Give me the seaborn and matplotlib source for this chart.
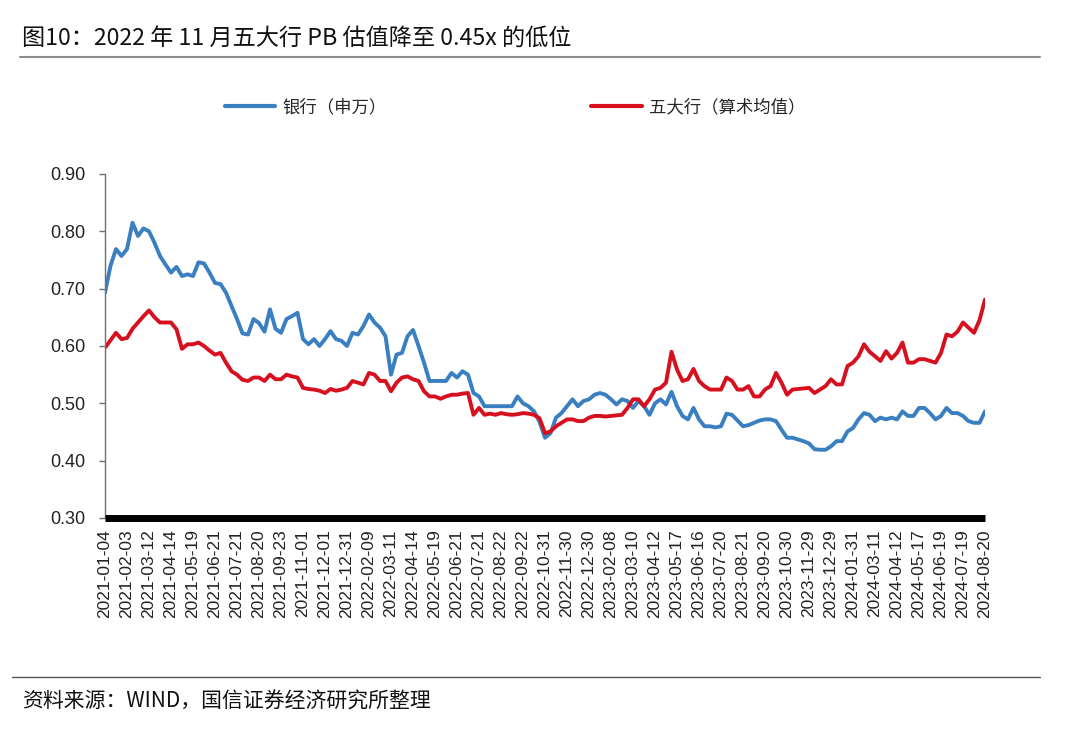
import matplotlib
matplotlib.use("Agg")
import matplotlib.pyplot as plt
import seaborn as sns
import pandas as pd
import numpy as np

# weekly readings (every ~5 trading days) from 2021-01-04 to 2024-08-20
bank_sw = [
    0.693, 0.74, 0.769, 0.757, 0.769, 0.815, 0.792, 0.805, 0.80, 0.78,
    0.757, 0.742, 0.728, 0.738, 0.722, 0.725, 0.722, 0.746, 0.744, 0.728,
    0.71, 0.708, 0.693, 0.67, 0.647, 0.622, 0.62, 0.647, 0.64, 0.625,
    0.664, 0.63, 0.623, 0.647, 0.652, 0.658, 0.612, 0.603, 0.612, 0.60,
    0.612, 0.626, 0.612, 0.609, 0.60, 0.623, 0.62, 0.635, 0.655, 0.641,
    0.632, 0.617, 0.55, 0.585, 0.588, 0.617, 0.628, 0.60, 0.571, 0.539,
    0.539, 0.539, 0.539, 0.553, 0.545, 0.556, 0.55, 0.518, 0.512, 0.495,
    0.495, 0.495, 0.495, 0.495, 0.495, 0.512, 0.50, 0.495, 0.486, 0.468,
    0.44, 0.448, 0.475, 0.483, 0.495, 0.507, 0.495, 0.504, 0.507, 0.515,
    0.518, 0.515, 0.507, 0.498, 0.507, 0.504, 0.492, 0.504, 0.495, 0.48,
    0.50, 0.507, 0.498, 0.52, 0.495, 0.478, 0.472, 0.492, 0.472, 0.46,
    0.46, 0.458, 0.46, 0.482, 0.48, 0.47, 0.46, 0.462, 0.466, 0.47,
    0.472, 0.472, 0.469, 0.454, 0.44, 0.44, 0.437, 0.434, 0.43, 0.42,
    0.419, 0.419, 0.425, 0.434, 0.434, 0.451, 0.457, 0.472, 0.483, 0.48,
    0.469, 0.475, 0.472, 0.475, 0.472, 0.486, 0.478, 0.478, 0.492, 0.492,
    0.483, 0.472, 0.478, 0.492, 0.483, 0.483, 0.478, 0.469, 0.466, 0.466,
    0.486,
]
big_five = [
    0.597, 0.61, 0.623, 0.612, 0.614, 0.63, 0.641, 0.652, 0.662, 0.65,
    0.641, 0.641, 0.641, 0.629, 0.595, 0.603, 0.603, 0.606, 0.60, 0.592,
    0.585, 0.588, 0.571, 0.556, 0.55, 0.541, 0.539, 0.545, 0.545, 0.539,
    0.55, 0.542, 0.542, 0.55, 0.547, 0.545, 0.527, 0.525, 0.524, 0.522,
    0.518, 0.525, 0.522, 0.524, 0.527, 0.539, 0.536, 0.533, 0.553, 0.55,
    0.539, 0.539, 0.521, 0.536, 0.545, 0.547, 0.542, 0.539, 0.521, 0.512,
    0.512, 0.508, 0.512, 0.515, 0.515, 0.517, 0.518, 0.48, 0.492, 0.48,
    0.482, 0.48, 0.483, 0.481, 0.48, 0.481, 0.483, 0.482, 0.48, 0.474,
    0.448, 0.451, 0.46, 0.466, 0.472, 0.472, 0.469, 0.469, 0.475, 0.478,
    0.478, 0.477, 0.478, 0.479, 0.48, 0.492, 0.507, 0.507, 0.495, 0.507,
    0.524, 0.527, 0.536, 0.59, 0.559, 0.539, 0.542, 0.56, 0.539, 0.53,
    0.524, 0.524, 0.524, 0.545, 0.539, 0.524, 0.524, 0.53, 0.512, 0.512,
    0.524, 0.53, 0.553, 0.536, 0.515, 0.524, 0.525, 0.526, 0.527, 0.518,
    0.524, 0.53, 0.542, 0.533, 0.533, 0.565, 0.571, 0.582, 0.603, 0.59,
    0.582, 0.574, 0.591, 0.578, 0.588, 0.606, 0.571, 0.571, 0.577, 0.577,
    0.574, 0.571, 0.588, 0.62, 0.617, 0.625, 0.641, 0.632, 0.623, 0.645,
    0.681,
]

tick_dates = [
    "2021-01-04", "2021-02-03", "2021-03-12", "2021-04-14", "2021-05-19",
    "2021-06-21", "2021-07-21", "2021-08-20", "2021-09-23", "2021-11-01",
    "2021-12-01", "2021-12-31", "2022-02-09", "2022-03-11", "2022-04-14",
    "2022-05-19", "2022-06-21", "2022-07-21", "2022-08-22", "2022-09-22",
    "2022-10-31", "2022-11-30", "2022-12-30", "2023-02-08", "2023-03-10",
    "2023-04-12", "2023-05-17", "2023-06-16", "2023-07-20", "2023-08-21",
    "2023-09-20", "2023-10-30", "2023-11-29", "2023-12-29", "2024-01-31",
    "2024-03-11", "2024-04-12", "2024-05-17", "2024-06-19", "2024-07-19",
    "2024-08-20",
]

name_bank = "银行（申万）"
name_big5 = "五大行（算术均值）"

df = pd.DataFrame({
    "idx": list(range(len(bank_sw))) * 2,
    "value": bank_sw + big_five,
    "series": [name_bank] * len(bank_sw) + [name_big5] * len(big_five),
})

sns.set_theme(style="white")
plt.rcParams["font.family"] = ["Liberation Sans", "Noto Sans CJK SC", "DejaVu Sans"]
cjk = ["Noto Sans CJK SC", "DejaVu Sans"]

fig = plt.figure(figsize=(10.8, 7.41), dpi=100)
ax = fig.add_axes([105 / 1080, 1 - 518 / 741, 880 / 1080, 344 / 741])

sns.lineplot(data=df, x="idx", y="value", hue="series",
             palette={name_bank: "#3a7fc1", name_big5: "#d7101f"},
             linewidth=2.8, ax=ax, legend=False)

ax.set_xlim(0, len(bank_sw) - 1)
ax.set_ylim(0.30, 0.90)
ax.set_yticks(np.arange(0.30, 0.91, 0.10))
ax.set_yticklabels([f"{v:.2f}" for v in np.arange(0.30, 0.91, 0.10)], fontsize=13)
step = (len(bank_sw) - 1) / (len(tick_dates) - 1)
ax.set_xticks([i * step for i in range(len(tick_dates))])
ax.set_xticklabels(tick_dates, rotation=90, fontsize=12.5)
ax.set_xlabel("")
ax.set_ylabel("")

for s in ["top", "right"]:
    ax.spines[s].set_visible(False)
ax.spines["left"].set_color("#707070")
ax.spines["left"].set_linewidth(1.0)
ax.spines["bottom"].set_color("black")
ax.spines["bottom"].set_linewidth(5)
ax.spines["bottom"].set_capstyle("butt")
ax.tick_params(axis="y", left=True, length=4, width=1, color="#707070", pad=10, colors="#222222")
ax.tick_params(axis="x", bottom=False, length=0, pad=8, colors="#222222")

# legend
h1 = plt.Line2D([], [], color="#3a7fc1", linewidth=3)
h2 = plt.Line2D([], [], color="#d7101f", linewidth=3)
fig.legend([h1, h2], [name_bank, name_big5], loc="center", ncol=2,
           bbox_to_anchor=(515 / 1080, 1 - 107 / 741), frameon=False,
           prop={"family": cjk, "size": 12.5}, handlelength=2.9,
           handletextpad=0.4, columnspacing=11.8)

# title, rules and source
fig.text(22 / 1080, 1 - 38 / 741, "图10：2022 年 11 月五大行 PB 估值降至 0.45x 的低位",
         fontsize=16.7, family=cjk, va="center", ha="left", color="#111111")
fig.add_artist(plt.Line2D([20 / 1080, 1040 / 1080], [1 - 57 / 741, 1 - 57 / 741],
                          color="#8c8c8c", linewidth=1.5))
fig.add_artist(plt.Line2D([12 / 1080, 1040 / 1080], [1 - 677 / 741, 1 - 677 / 741],
                          color="#555555", linewidth=1.0))
fig.text(22 / 1080, 1 - 702 / 741, "资料来源：WIND，国信证券经济研究所整理",
         fontsize=15, family=cjk, va="center", ha="left", color="#111111")

fig.savefig("out.png", dpi=100)
